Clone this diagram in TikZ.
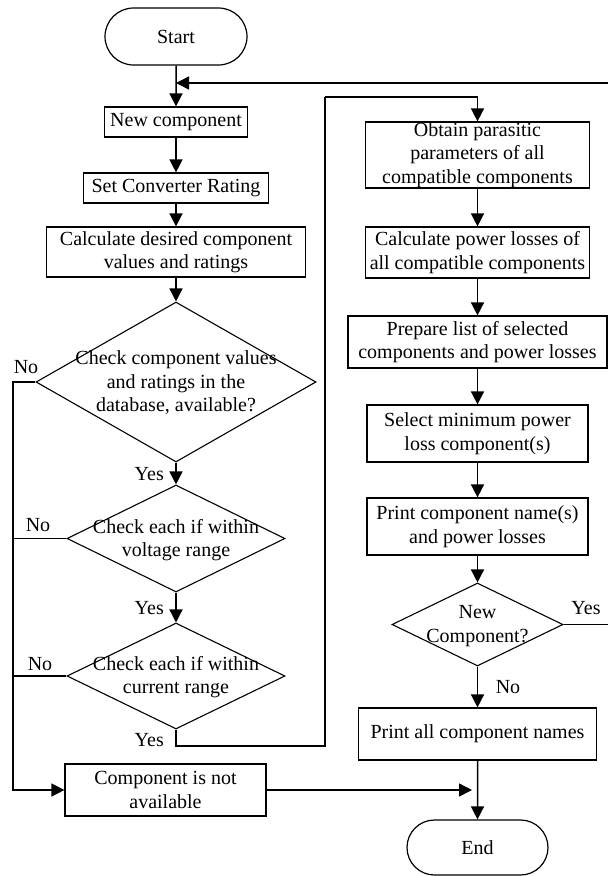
\documentclass[tikz,border=0pt]{standalone}
\usepackage{fontspec}
\setmainfont{Liberation Serif}
\usetikzlibrary{shapes.geometric,shapes.misc,arrows.meta}
\begin{document}
\begin{tikzpicture}[x=1pt,y=-1pt,
  every node/.style={font=\fontsize{20}{23.5}\selectfont},
  box/.style={draw,line width=1.2pt,rectangle,align=center,inner sep=0pt},
  term/.style={draw,line width=1.2pt,rounded rectangle,inner sep=0pt},
  dia/.style={draw,line width=1.1pt,diamond,inner sep=0pt},
  arr/.style={line width=1.5pt,-{Triangle[width=13pt,length=13pt]}},
  ln/.style={line width=1.5pt},
  lab/.style={inner sep=0pt},
  dtext/.style={align=center,inner sep=0pt}]
\useasboundingbox (0,0) rectangle (608,876);
\clip (0,0) rectangle (608,876);

% left column
\node[term,minimum width=142pt,minimum height=57pt] (start) at (176,36.5) {Start};
\node[box,minimum width=143pt,minimum height=30pt] (newc) at (176,122) {New component};
\node[box,minimum width=185pt,minimum height=30pt] (setc) at (176,188) {Set Converter Rating};
\node[box,minimum width=259pt,minimum height=50pt] (calc) at (176,252) {Calculate desired component\\values and ratings};
\node[dia,minimum width=280pt,minimum height=160pt] (d1) at (176,382) {};
\node[dtext] (d1t) at (176,383) {Check component values\\and ratings in the\\database, available?};
\node[dia,minimum width=218pt,minimum height=107pt] (d2) at (176,538.5) {};
\node[dtext] (d2t) at (176,540) {Check each if within\\voltage range};
\node[dia,minimum width=218pt,minimum height=106pt] (d3) at (176,676) {};
\node[dtext] (d3t) at (176,677) {Check each if within\\current range};
\node[box,minimum width=201pt,minimum height=52pt] (notav) at (165.5,790) {Component is not\\available};

% right column
\node[box,minimum width=224pt,minimum height=66pt] (obtain) at (477.5,155) {Obtain parasitic\\parameters of all\\compatible components};
\node[box,minimum width=224pt,minimum height=51pt] (cpl) at (477.5,252.5) {Calculate power losses of\\all compatible components};
\node[box,minimum width=259pt,minimum height=52pt] (prep) at (477.5,342) {Prepare list of selected\\components and power losses};
\node[box,minimum width=221pt,minimum height=57pt] (sel) at (477.5,433.5) {Select minimum power\\loss component(s)};
\node[box,minimum width=221pt,minimum height=57pt] (prn) at (477.5,526.5) {Print component name(s)\\and power losses};
\node[dia,minimum width=171pt,minimum height=83pt] (nc) at (477.5,624.5) {};
\node[dtext] (nct) at (477.5,626) {New\\Component?};
\node[box,minimum width=238pt,minimum height=52pt] (pall) at (477.5,734) {Print all component names};
\node[term,minimum width=141pt,minimum height=55pt] (end) at (477.5,847.5) {End};

% labels
\node[lab,anchor=east] (y1) at (164,474) {Yes};
\node[lab,anchor=east] (y2) at (164,608) {Yes};
\node[lab,anchor=east] (y3) at (164,740) {Yes};
\node[lab] (n1) at (26,367) {No};
\node[lab] (n2) at (38,525) {No};
\node[lab] (n3) at (40,664) {No};
\node[lab] (n4) at (508,687) {No};
\node[lab] (y4) at (586,608) {Yes};

% coordinates
\coordinate (join) at (176,83);
\coordinate (rt) at (620,83);
\coordinate (c1) at (325,746);
\coordinate (c2) at (325,97);
\coordinate (l1) at (13,382);
\coordinate (endin) at (472,790);

% connectors left
\draw[arr] (start) -- (newc);
\draw[arr] (newc) -- (setc);
\draw[arr] (setc) -- (calc);
\draw[arr] (calc) -- (d1);
\draw[arr] (d1.south) -- (d2.north);
\draw[arr] (d2.south) -- (d3.north);
\draw[ln] (d3.south) |- (c1) -- (c2);
\draw[arr] (c2) -| (obtain.north);
\draw[arr] (d1.west) -- (l1) |- (notav.west);
\draw[ln] (d2.west) -- (d2.west -| l1);
\draw[ln] (d3.west) -- (d3.west -| l1);
\draw[arr] (notav.east) -- (endin);

% connectors right
\draw[arr] (obtain) -- (cpl);
\draw[arr] (cpl) -- (prep);
\draw[arr] (prep) -- (sel);
\draw[arr] (sel) -- (prn);
\draw[arr] (prn.south) -- (nc.north);
\draw[arr] (nc.south) -- (pall.north);
\draw[arr] (pall) -- (end);
\draw[arr] (nc.east) -| (rt) -- (join);
\end{tikzpicture}
\end{document}
